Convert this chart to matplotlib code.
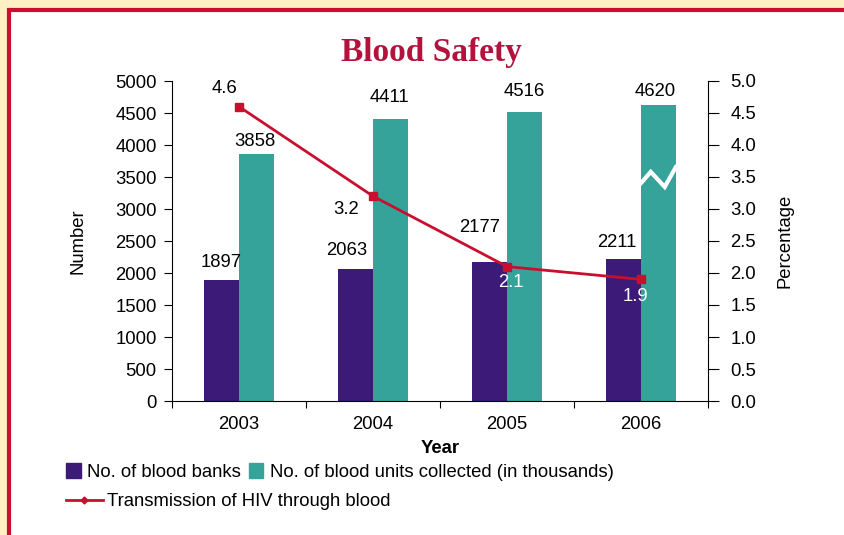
import matplotlib
matplotlib.use("Agg")
import matplotlib.pyplot as plt
from matplotlib.patches import Rectangle
from matplotlib.lines import Line2D
import numpy as np

# data
years = ["2003", "2004", "2005", "2006"]
blood_banks = [1897, 2063, 2177, 2211]
blood_units = [3858, 4411, 4516, 4620]          # in thousands
hiv_transmission = [4.6, 3.2, 2.1, 1.9]         # percentage

PURPLE = "#3b1a78"
TEAL = "#36a39b"
RED = "#c8102e"
CREAM = "#fdf1c3"
FS = 13.3

plt.rcParams["font.family"] = "Liberation Sans"
fig = plt.figure(figsize=(8.44, 5.35), dpi=100, facecolor=CREAM)

# white panel with crimson border
fig.add_artist(Rectangle((8.5 / 844, -0.1), 1.2, 0.1 + 1 - 9.5 / 535,
                         transform=fig.transFigure, facecolor="white",
                         edgecolor=RED, lw=3, zorder=0))

fig.text(431 / 844, 1 - 52 / 535, "Blood Safety", ha="center", va="center",
         family="Liberation Serif", weight="bold", size=24, color="#b3123c")

ax = fig.add_axes([172 / 844, 1 - 401 / 535, 536 / 844, 320 / 535])
ax.set_facecolor("none")
x = np.arange(len(years))
w = 0.26
b1 = ax.bar(x - w / 2, blood_banks, w, color=PURPLE, zorder=2)
b2 = ax.bar(x + w / 2, blood_units, w, color=TEAL, zorder=2)

ax.set_xlim(-0.5, len(years) - 0.5)
ax.set_ylim(0, 5000)
ax.set_yticks(np.arange(0, 5001, 500))
ax.set_xticks(np.arange(-0.5, len(years)), [])
ax.set_xticks(x, years, minor=True)
ax.tick_params(axis="x", which="major", direction="out", length=5, width=0.8)
ax.tick_params(axis="x", which="minor", length=0, pad=11, labelsize=FS)
ax.tick_params(axis="y", direction="out", length=6, width=0.8, labelsize=FS, pad=5)
for s in ["top", "right"]:
    ax.spines[s].set_visible(False)
ax.set_ylabel("Number", size=FS)
ax.yaxis.set_label_coords(-0.160, 0.5)
ax.set_xlabel("Year", weight="bold", size=FS)
ax.xaxis.set_label_coords(0.5, -0.122)

# bar value labels (pixel offsets chosen by eye)
bank_off = [(0, 9), (-9, 10), (-10, 26), (-7, 8)]
unit_off = [(-2, 4), (-1, 13), (0, 12), (-3, 5)]
for bars, vals, offs in [(b1, blood_banks, bank_off), (b2, blood_units, unit_off)]:
    for r, v, (dx, dy) in zip(bars, vals, offs):
        ax.annotate(str(v), (r.get_x() + r.get_width() / 2, v),
                    xytext=(dx, dy), textcoords="offset pixels",
                    ha="center", va="bottom", size=FS, zorder=5)

# axis-break zigzag on the tallest bar
last = b2[-1]
zx = last.get_x() + last.get_width() * np.array([0, 0.28, 0.68, 1.0])
zy = 3500 + np.array([-95, 80, -155, 155])
ax.plot(zx, zy, color="white", lw=3, solid_joinstyle="miter", zorder=3)

ax2 = ax.twinx()
ax2.set_ylim(0, 5)
ax2.set_yticks(np.arange(0, 5.01, 0.5))
ax2.yaxis.set_major_formatter(matplotlib.ticker.FormatStrFormatter("%.1f"))
ax2.tick_params(axis="y", direction="out", length=8, width=0.8, labelsize=FS, pad=8)
for s in ["top", "left", "bottom"]:
    ax2.spines[s].set_visible(False)
ax2.set_ylabel("Percentage", size=FS)
ax2.yaxis.set_label_coords(1.128, 0.5)
ax2.plot(x, hiv_transmission, color=RED, lw=2, marker="s", markersize=6, zorder=4)

hiv_off = [(-15, 18, "black"), (-27, -13, "black"), (4, -16, "white"), (-6, -17, "white")]
for xi, v, (dx, dy, c) in zip(x, hiv_transmission, hiv_off):
    ax2.annotate(f"{v:.1f}", (xi, v), xytext=(dx, dy), textcoords="offset pixels",
                 ha="center", va="center", size=FS, color=c, zorder=5)

# legends
h1 = [Rectangle((0, 0), 1, 1, color=PURPLE), Rectangle((0, 0), 1, 1, color=TEAL)]
fig.legend(h1, ["No. of blood banks", "No. of blood units collected (in thousands)"],
           loc="center left", bbox_to_anchor=(66 / 844, 1 - 472 / 535), ncol=2,
           frameon=False, fontsize=FS, handlelength=0.8, handleheight=0.9,
           handletextpad=0.35, columnspacing=0.4, borderpad=0, borderaxespad=0)
h2 = [Line2D([0], [0], color=RED, lw=2, marker="D", markersize=3.5)]
fig.legend(h2, ["Transmission of HIV through blood"],
           loc="center left", bbox_to_anchor=(66 / 844, 1 - 502 / 535),
           frameon=False, fontsize=FS, handlelength=2.0, handletextpad=0.2,
           borderpad=0, borderaxespad=0)

fig.savefig("out.png", dpi=100, facecolor=CREAM)
